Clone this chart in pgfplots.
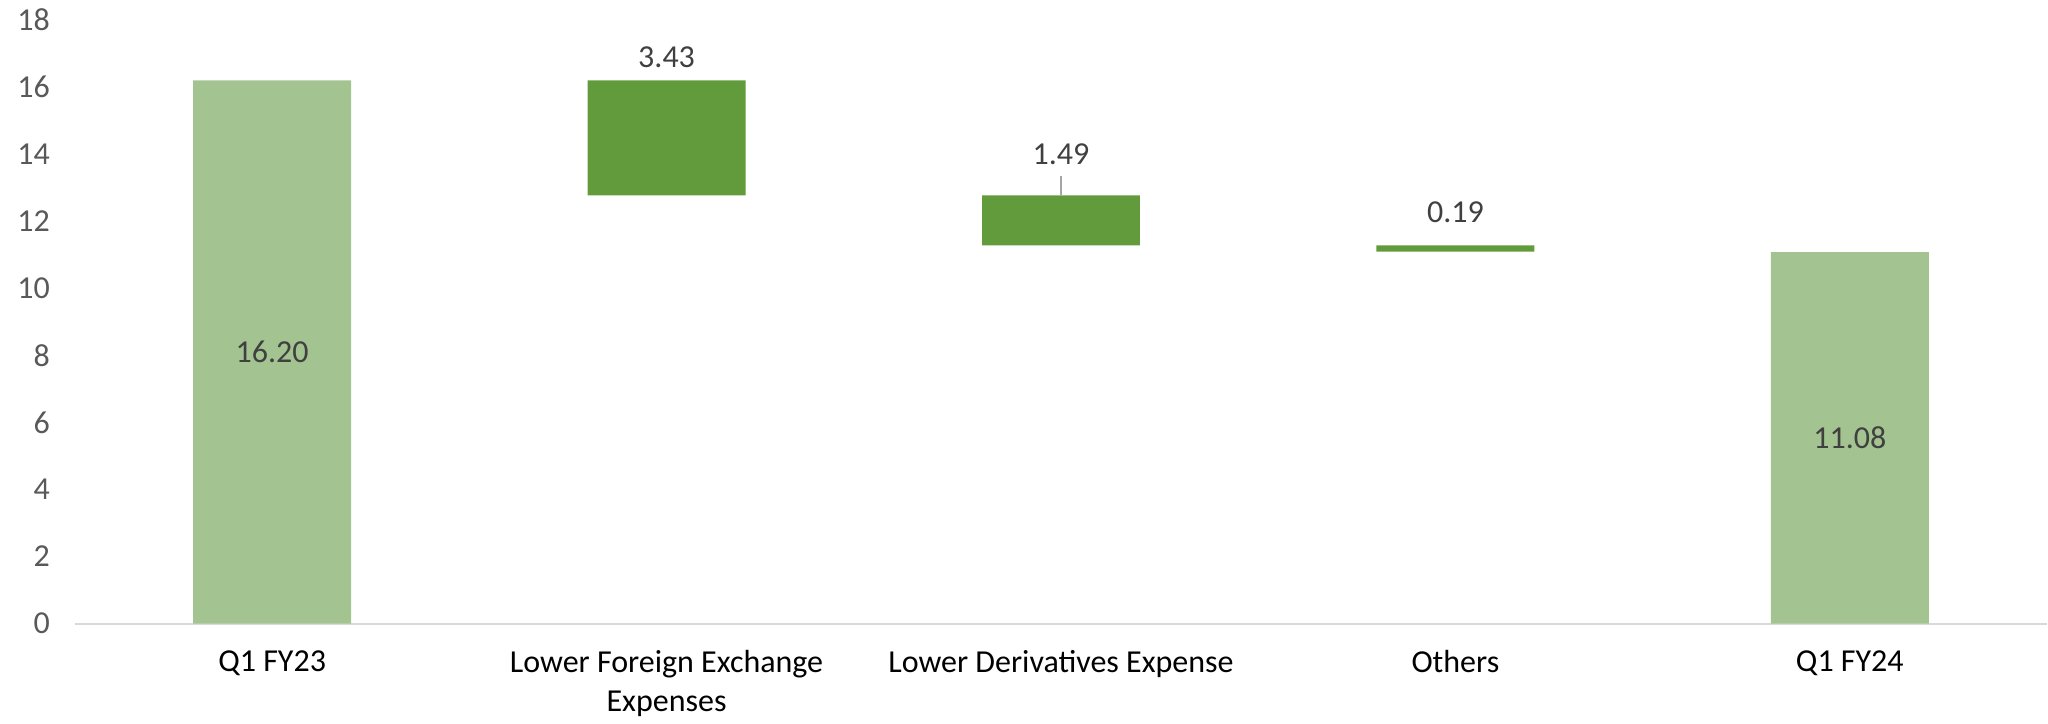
\documentclass[border=0pt]{standalone}
\usepackage{fontspec}
\setmainfont{Carlito}
\usepackage{pgfplots}
\pgfplotsset{compat=1.18}

\definecolor{totalgreen}{HTML}{A3C490}
\definecolor{stepgreen}{HTML}{629B3C}
\definecolor{ticktext}{HTML}{595959}
\definecolor{labeltext}{HTML}{404040}
\definecolor{axisgray}{HTML}{D9D9D9}
\definecolor{leadergray}{HTML}{A6A6A6}

\tikzset{vlabel/.style={font=\fontsize{16}{19.5}\selectfont, text=labeltext}}

\begin{document}
\begin{tikzpicture}
    \begin{axis}[
        name=ax,
        scale only axis,
        width=986.5pt, height=302pt,
        ybar stacked, bar width=79pt,
        xmin=-0.5, xmax=4.5,
        ymin=0, ymax=18,
        xtick={0,1,2,3,4},
        xticklabels={Q1 FY23, {Lower Foreign Exchange\\Expenses}, Lower Derivatives Expense, Others, Q1 FY24},
        ytick={0,2,...,18},
        axis x line*=bottom,
        axis y line*=left,
        x axis line style={draw=axisgray, line width=1pt},
        y axis line style={draw=none},
        major tick length=0pt,
        tick style={draw=none},
        xticklabel style={align=center, text=black, yshift=-10pt,
            font=\fontsize{16}{19.5}\selectfont},
        yticklabel style={text=ticktext, xshift=-9pt,
            font=\fontsize{16}{19.5}\selectfont},
        /pgf/number format/assume math mode=true,
        clip=false,
    ]
    % invisible base of the floating bars
    \addplot [draw=none, fill=white, fill opacity=0] coordinates {
      (0,0) (1,12.77) (2,11.28) (3,11.09) (4,0) };
    % decreases
    \addplot [draw=none, fill=stepgreen] coordinates {
      (0,0) (1,3.43) (2,1.49) (3,0.19) (4,0) };
    % totals
    \addplot [draw=none, fill=totalgreen] coordinates {
      (0,16.20) (1,0) (2,0) (3,0) (4,11.08) };

    \coordinate (l0) at (axis cs:0,8.1);
    \coordinate (l1) at (axis cs:1,16.88);
    \coordinate (l2) at (axis cs:2,13.99);
    \coordinate (l3) at (axis cs:3,12.26);
    \coordinate (l4) at (axis cs:4,5.54);
    \draw [leadergray, line width=0.75pt] (axis cs:2,12.77) -- (axis cs:2,13.35);
    \end{axis}
    \node[vlabel] at (l0) {16.20};
    \node[vlabel] at (l1) {3.43};
    \node[vlabel] at (l2) {1.49};
    \node[vlabel] at (l3) {0.19};
    \node[vlabel] at (l4) {11.08};
    \path[use as bounding box] ([shift={(-37.5pt,-49.5pt)}]ax.south west) rectangle ([shift={(0pt,10pt)}]ax.north east);
\end{tikzpicture}
\end{document}
